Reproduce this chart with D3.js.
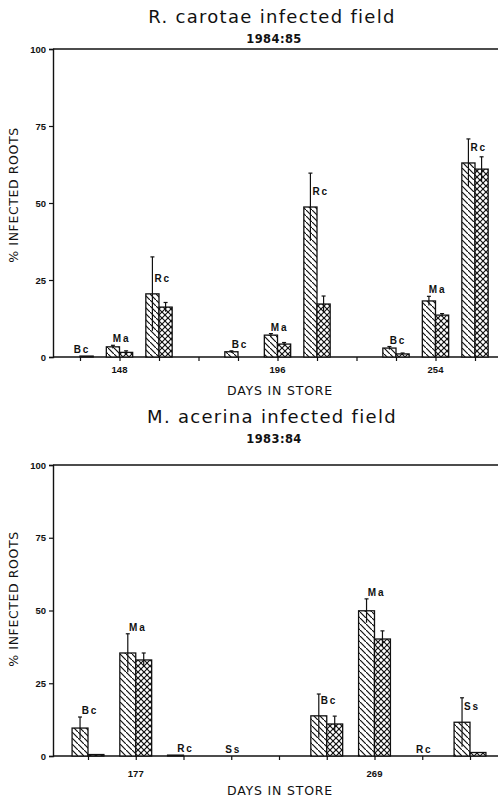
<!DOCTYPE html>
<html><head><meta charset="utf-8">
<script src="https://cdn.jsdelivr.net/npm/d3@7"></script>
<style>body{margin:0;background:#fff} svg{display:block}</style>
</head><body><svg id="c" width="498" height="798"></svg>
<script>
// ---- data ----
const yTicks = [0, 25, 50, 75, 100];

const topTitle = "R. carotae infected field";
const topSubtitle = "1984:85";
const topGroups = ["148", "196", "254"];
const topFungi = ["Bc", "Ma", "Rc"];
const topHatched    = [0.0, 3.3, 20.5, 1.7, 7.1, 48.7, 2.9, 18.2, 63.0];
const topHatchedErr = [0.0, 0.5, 12.0, 0.3, 0.5, 11.0, 0.5, 1.5, 7.8];
const topCross      = [0.3, 1.5, 16.2, 0.0, 4.2, 17.2, 1.0, 13.6, 61.0];
const topCrossErr   = [0.0, 0.5, 1.5, 0.0, 0.5, 2.6, 0.3, 0.5, 4.0];

const botTitle = "M. acerina infected field";
const botSubtitle = "1983:84";
const botGroups = ["177", "269"];
const botFungi = ["Bc", "Ma", "Rc", "Ss"];
const botHatched    = [9.6, 35.4, 0.3, 0.0, 13.8, 49.9, 0.0, 11.6];
const botHatchedErr = [3.8, 6.6, 0.0, 0.0, 7.5, 4.1, 0.0, 8.4];
const botCross      = [0.5, 33.0, 0.0, 0.0, 11.0, 40.2, 0.0, 1.2];
const botCrossErr   = [0.0, 2.4, 0.0, 0.0, 2.7, 2.8, 0.0, 0.0];

const xTitle = "DAYS IN STORE";
const yTitle = "% INFECTED ROOTS";

// ---- drawing ----
const svg = d3.select("#c");
const defs = svg.append("defs");
function pattern(id, cross) {
  const s = 6;
  const p = defs.append("pattern").attr("id", id).attr("patternUnits", "userSpaceOnUse")
    .attr("width", s).attr("height", s);
  p.append("rect").attr("width", s).attr("height", s).attr("fill", "#fff");
  const g = p.append("g").attr("stroke", "#111").attr("stroke-width", 1.2);
  g.append("line").attr("x1", -1).attr("y1", -1).attr("x2", s + 1).attr("y2", s + 1);
  if (cross) {
    g.append("line").attr("x1", s + 1).attr("y1", -1).attr("x2", -1).attr("y2", s + 1);
  }
}
pattern("hatch", false);
pattern("cross", true);

const panels = [
  {title: topTitle, sub: topSubtitle, groups: topGroups, fungi: topFungi,
   h: topHatched, he: topHatchedErr, c: topCross, ce: topCrossErr,
   y0: 357, y100: 49, xr: [80, 475], titleY: 23, subY: 43, tickLabY: 373, xTitleY: 395, yTitleC: 195},
  {title: botTitle, sub: botSubtitle, groups: botGroups, fungi: botFungi,
   h: botHatched, he: botHatchedErr, c: botCross, ce: botCrossErr,
   y0: 756, y100: 465, xr: [88, 470], titleY: 423, subY: 443, tickLabY: 777, xTitleY: 795, yTitleC: 599}
];

const axisX0 = 53, axisX1 = 498;

panels.forEach(P => {
  const g = svg.append("g");
  const slots = [];
  const items = [];
  P.groups.forEach((grp, gi) => {
    P.fungi.forEach((f, fi) => {
      const id = grp + "-" + f;
      slots.push(id);
      const k = gi * P.fungi.length + fi;
      items.push({id, grp, f, fi, h: P.h[k], he: P.he[k], c: P.c[k], ce: P.ce[k]});
    });
    if (gi < P.groups.length - 1) slots.push(grp + "-gap");
  });
  const x = d3.scalePoint().domain(slots).range(P.xr);
  const y = d3.scaleLinear().domain([0, 100]).range([P.y0, P.y100]);
  const bw = x.step() / 3;

  // titles
  g.append("text").attr("x", 272).attr("y", P.titleY).attr("text-anchor", "middle")
    .attr("font-family", "DejaVu Sans").attr("font-size", 18).attr("letter-spacing", 1.3)
    .attr("fill", "#111").text(P.title);
  g.append("text").attr("x", 274).attr("y", P.subY).attr("text-anchor", "middle")
    .attr("font-family", "DejaVu Sans").attr("font-size", 11.5).attr("font-weight", "bold").attr("letter-spacing", 0.4)
    .attr("fill", "#111").text(P.sub);

  // y axis
  const yAxis = d3.axisLeft(y).tickValues(yTicks).tickSize(4).tickPadding(3).tickFormat(d3.format("d"));
  const ya = g.append("g").attr("transform", `translate(${axisX0},0)`).call(yAxis);
  ya.select(".domain").attr("stroke", "#111").attr("stroke-width", 1.4);
  ya.selectAll(".tick line").attr("stroke", "#111").attr("stroke-width", 1.2);
  ya.selectAll(".tick text").attr("font-family", "Liberation Sans Narrow, Liberation Sans").attr("font-weight", "bold")
    .attr("font-size", 9.5).attr("fill", "#111");

  // top frame line
  g.append("line").attr("x1", axisX0).attr("x2", axisX1).attr("y1", y(100)).attr("y2", y(100))
    .attr("stroke", "#111").attr("stroke-width", 1.5);

  // x axis
  const xAxis = d3.axisBottom(x).tickSize(4).tickPadding(4).tickFormat(() => "");
  const xa = g.append("g").attr("transform", `translate(0,${y(0)})`).call(xAxis);
  xa.select(".domain").remove();
  xa.selectAll(".tick line").attr("stroke", "#111").attr("stroke-width", 1.2);
  g.append("line").attr("x1", axisX0).attr("x2", axisX1).attr("y1", y(0)).attr("y2", y(0))
    .attr("stroke", "#111").attr("stroke-width", 1.5);
  P.groups.forEach(grp => {
    g.append("text").attr("x", x(grp + "-" + P.fungi[1])).attr("y", P.tickLabY).attr("text-anchor", "middle")
      .attr("font-family", "Liberation Sans Narrow, Liberation Sans").attr("font-weight", "bold").attr("font-size", 9.5)
      .attr("fill", "#111").text(grp);
  });

  g.append("text").attr("x", 280).attr("y", P.xTitleY).attr("text-anchor", "middle")
    .attr("font-family", "DejaVu Sans").attr("font-size", 12.5).attr("letter-spacing", 0.8)
    .attr("fill", "#111").text(xTitle);
  g.append("text").attr("transform", `translate(18,${P.yTitleC}) rotate(-90)`).attr("text-anchor", "middle")
    .attr("font-family", "DejaVu Sans").attr("font-size", 12.5).attr("letter-spacing", 0.6)
    .attr("fill", "#111").text(yTitle);

  // bars
  items.forEach(d => {
    const cx = x(d.id);
    const bars = [
      {v: d.h, e: d.he, x0: cx - bw, fill: "url(#hatch)"},
      {v: d.c, e: d.ce, x0: cx, fill: "url(#cross)"}
    ];
    bars.forEach(b => {
      if (b.v <= 0) return;
      g.append("rect").attr("x", b.x0).attr("y", y(b.v)).attr("width", bw).attr("height", y(0) - y(b.v))
        .attr("fill", b.fill).attr("stroke", "#111").attr("stroke-width", 1.3);
      if (b.e > 0) {
        const ex = b.x0 + bw / 2;
        g.append("line").attr("x1", ex).attr("x2", ex).attr("y1", y(b.v + b.e)).attr("y2", y(Math.max(0, b.v - b.e)))
          .attr("stroke", "#111").attr("stroke-width", 1.2);
        g.append("line").attr("x1", ex - 2).attr("x2", ex + 2).attr("y1", y(b.v + b.e)).attr("y2", y(b.v + b.e))
          .attr("stroke", "#111").attr("stroke-width", 1.2);
      }
    });
    const errTop = y(Math.max(d.h + d.he, d.c + d.ce, 0));
    const lab = g.append("text").attr("font-family", "Liberation Sans").attr("font-weight", "bold")
      .attr("font-size", 10).attr("letter-spacing", 1.8).attr("fill", "#111").text(d.f);
    if (d.he > 7) {
      const ex = cx - bw / 2;
      lab.attr("x", ex + 2).attr("y", Math.max(y(d.h + d.he) + 8, y(d.h) - 12)).attr("text-anchor", "start");
    } else {
      lab.attr("x", cx + 2).attr("y", errTop - 3).attr("text-anchor", "middle");
    }
  });
});
</script>
</body></html>
